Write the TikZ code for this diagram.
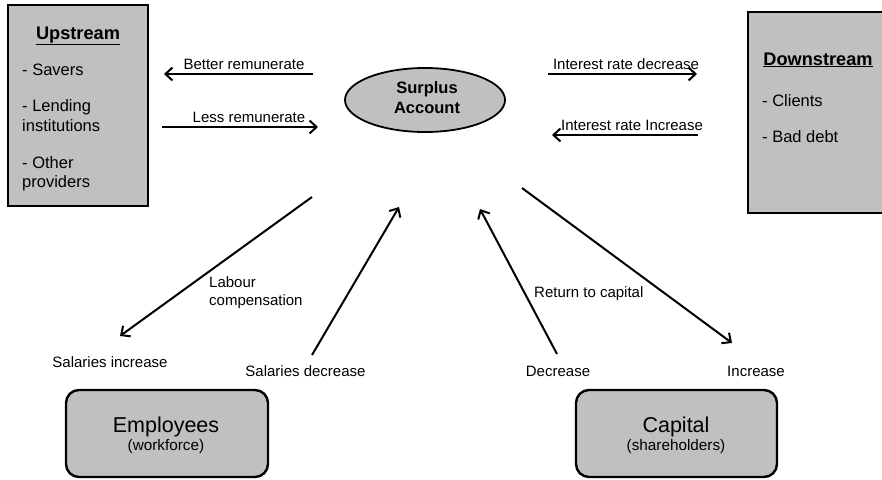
\documentclass[tikz,border=0pt]{standalone}
\usepackage{fontspec}
\setmainfont{Liberation Sans}
\usetikzlibrary{arrows.meta,shapes.geometric}
\definecolor{boxgray}{HTML}{C0C0C0}
\tikzset{
  flow/.style={line width=2pt,-{Straight Barb[length=7pt,width=13pt]}},
  lbl/.style={inner sep=0pt,anchor=base,font=\fontsize{15}{17}\selectfont},
  lbll/.style={lbl,anchor=base west},
  item/.style={inner sep=0pt,anchor=base west,font=\fontsize{16.5}{19}\selectfont},
  head/.style={inner sep=0pt,anchor=base,font=\bfseries\fontsize{18.2}{20}\selectfont},
  sqbox/.style={draw,line width=2.6pt,fill=boxgray},
  rbox/.style={draw,line width=2.4pt,fill=boxgray,rounded corners=13pt},
  big/.style={inner sep=0pt,anchor=base,font=\fontsize{21.5}{24}\selectfont},
  small/.style={inner sep=0pt,anchor=base,font=\fontsize{15.3}{17}\selectfont},
}
\begin{document}
\begin{tikzpicture}[x=1pt,y=-1pt]
\clip (0,0) rectangle (882,479);
% Upstream box
\draw[sqbox] (8,5) rectangle (148,206);
\node[head] (up) at (78,39) {\underline{Upstream}};
\node[item] (u1) at (22,75) {- Savers};
\node[item] (u2) at (22,111) {- Lending};
\node[item] (u3) at (22,131) {institutions};
\node[item] (u4) at (22,168) {- Other};
\node[item] (u5) at (22,187) {providers};
% Downstream box
\draw[sqbox] (748,12) rectangle (892,213);
\node[head] (down) at (818,65) {\underline{Downstream}};
\node[item] (d1) at (762,106) {- Clients};
\node[item] (d2) at (762,142) {- Bad debt};
% Surplus
\node[ellipse,draw,line width=1.8pt,fill=boxgray,minimum width=160pt,minimum height=64pt,inner sep=0pt] (sa) at (425,100) {};
\node[inner sep=0pt,anchor=base,font=\bfseries\fontsize{16.5}{19}\selectfont] (s1) at (427,93) {Surplus};
\node[inner sep=0pt,anchor=base,font=\bfseries\fontsize{16.5}{19}\selectfont] (s2) at (427,113) {Account};
% Employees / Capital
\draw[rbox] (66,390) rectangle (268,477);
\node[big] (emp) at (166,432) {Employees};
\node[small] (empw) at (166,450) {(workforce)};
\draw[rbox] (576,390) rectangle (777,477);
\node[big] (cap) at (676,432) {Capital};
\node[small] (caps) at (676,450) {(shareholders)};
% coordinates for arrows
\coordinate (br1) at (313,74); \coordinate (br2) at (164,74);
\coordinate (lr1) at (162,127); \coordinate (lr2) at (318,127);
\coordinate (id1) at (548,74); \coordinate (id2) at (697,74);
\coordinate (ii1) at (698,135); \coordinate (ii2) at (552,135);
\coordinate (lc1) at (312,197); \coordinate (lc2) at (120,336);
\coordinate (sd1) at (312,355); \coordinate (sd2) at (399,207);
\coordinate (rc1) at (557,354); \coordinate (rc2) at (480,209);
\coordinate (ci1) at (522,188); \coordinate (ci2) at (732,343);
\draw[flow] (br1) -- (br2);
\draw[flow] (lr1) -- (lr2);
\draw[flow] (id1) -- (id2);
\draw[flow] (ii1) -- (ii2);
\draw[flow] (lc1) -- (lc2);
\draw[flow] (sd1) -- (sd2);
\draw[flow] (rc1) -- (rc2);
\draw[flow] (ci1) -- (ci2);
% labels
\node[lbl] (tbr) at (244,69) {Better remunerate};
\node[lbl] (tlr) at (249,122) {Less remunerate};
\node[lbl] (tid) at (626,69) {Interest rate decrease};
\node[lbl] (tii) at (632,130) {Interest rate Increase};
\node[lbll] (tlc1) at (209,287) {Labour};
\node[lbll] (tlc2) at (209,305.5) {compensation};
\node[lbll] (trc) at (534,297) {Return to capital};
\node[lbl] (tsi) at (110,367) {Salaries increase};
\node[lbl] (tsd) at (305.5,376) {Salaries decrease};
\node[lbl] (tdec) at (558,376) {Decrease};
\node[lbl] (tinc) at (756,376) {Increase};
\end{tikzpicture}
\end{document}
